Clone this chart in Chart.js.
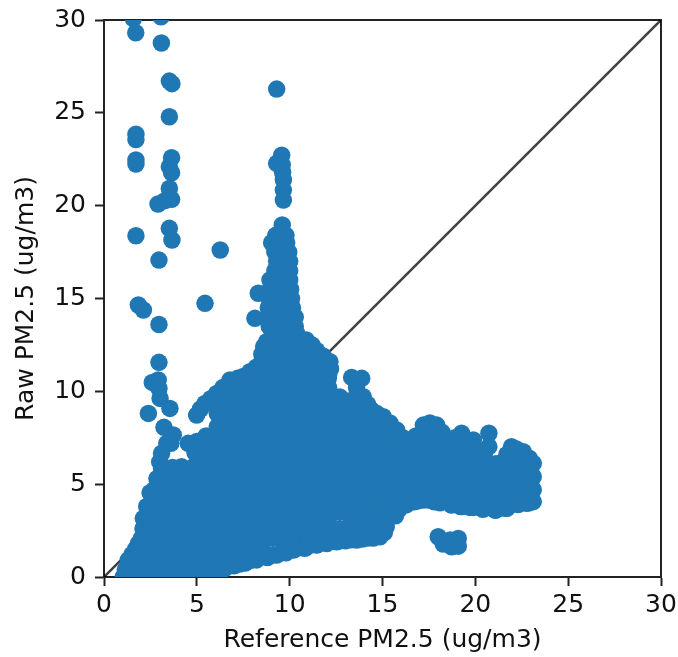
<!DOCTYPE html>
<html lang="en">
<head>
  <meta charset="UTF-8">
  <title>Raw vs Reference PM2.5</title>
  <script src="https://cdn.jsdelivr.net/npm/chart.js"></script>
  <style>
    body { margin: 0; background: #fff; }
    canvas { display: block; filter: blur(0.6px); }
  </style>
</head>
<body>
  <canvas id="grafico" width="678" height="657"></canvas>

  <script>
    const tickValues = [0, 5, 10, 15, 20, 25, 30];
    const refLine = [0, 30];

    // scattered points above the main cloud
    const outlierRef = [1.58, 1.71, 3.07, 3.09, 3.52, 3.66, 3.52, 1.72, 1.72, 1.72, 1.72, 3.64, 3.52, 3.64, 3.52, 3.64, 3.28, 2.91,
      3.52, 3.66, 1.72, 2.96, 6.26, 5.44, 1.85, 2.12, 2.96, 9.30, 2.96, 2.6, 2.92, 2.96, 3.02, 3.55, 2.39, 3.23, 3.73, 3.38, 3.6];
    const outlierRaw = [30.08, 29.31, 30.17, 28.76, 26.71, 26.57, 24.79, 23.85, 23.56, 22.46, 22.24, 22.58, 22.1, 21.77, 20.93, 20.34, 20.27, 20.09,
      18.78, 18.15, 18.38, 17.07, 17.61, 14.74, 14.65, 14.38, 13.6, 26.28, 11.56, 10.48, 10.61, 10.16, 9.62, 9.08, 8.81, 8.06, 7.65, 7.2, 7.2];

    // narrow column rising around 9-10 ug/m3
    const spikeRef = [9.57, 9.30, 9.60, 9.62, 9.66, 9.66, 9.66, 9.60,
      9.25, 9.6, 9.8, 9.03, 9.4, 9.84, 9.2, 9.6, 9.95, 9.3, 9.65, 10.0, 9.2, 9.6, 10.0,
      8.94, 9.3, 9.7, 10.0, 8.95, 9.3, 9.7, 10.05, 8.9, 9.3, 9.7, 10.1, 8.85, 9.3, 9.7, 10.15,
      8.8, 9.2, 9.6, 10.0, 10.3, 8.9, 9.3, 9.7, 10.1, 10.3, 8.31, 8.13, 8.76, 9.03, 10.38];
    const spikeRaw = [22.72, 22.28, 22.2, 21.8, 21.38, 20.84, 20.3, 18.96,
      18.4, 18.4, 18.4, 18.0, 18.0, 18.0, 17.5, 17.5, 17.5, 17.0, 17.0, 17.0, 16.5, 16.5, 16.5,
      16.0, 16.0, 16.0, 16.0, 15.5, 15.5, 15.5, 15.5, 15.0, 15.0, 15.0, 15.0, 14.5, 14.5, 14.5, 14.5,
      14.0, 14.0, 14.0, 14.0, 14.0, 13.5, 13.5, 13.5, 13.5, 13.5, 15.28, 13.93, 12.67, 13.3, 13.12];

    // outline of the main cloud
    const edgeRef = [1.04, 1.15, 1.31, 1.5, 1.7, 1.85, 2.03, 2.1, 2.12, 2.3, 2.48, 2.7, 2.85, 3.0, 3.1, 3.1, 4.18, 4.54, 5.0, 4.99, 5.2, 5.44, 5.75, 6.07, 6.4, 6.79, 7.2, 7.5, 7.86, 8.2, 8.5, 8.6,
      10.9, 11.2, 11.45, 11.8, 12.17, 12.2, 12.08, 13.34, 13.88, 13.6, 13.96, 14.2, 14.4, 14.7, 15.04, 15.4, 15.76, 16.1, 16.39, 16.8, 17.2, 17.55, 17.92, 18.2, 18.54, 18.9, 19.26, 19.89,
      20.73, 20.73, 21.36, 21.95, 22.2, 22.58, 22.9, 23.12, 23.12, 23.12, 23.12,
      22.76, 22.3, 21.6, 21.06, 20.4, 19.71, 19.2, 18.72, 17.8, 17.2, 16.7, 16.21, 15.85, 15.49, 15.2, 14.86, 14.2, 13.61, 13.0, 12.53, 12.0, 11.45, 10.8, 10.19, 9.8, 9.3, 8.8, 8.22, 7.6, 7.0, 6.5, 6.0, 5.5];
    const edgeRaw = [0, 0.4, 0.92, 1.2, 1.5, 1.8, 2.1, 2.6, 3.16, 3.8, 4.54, 4.7, 5.3, 6.2, 6.66, 5.9, 5.94, 7.2, 7.3, 8.72, 9.05, 9.35, 9.6, 9.89, 10.2, 10.61, 10.7, 10.8, 11.06, 11.3, 12.0, 12.4,
      12.76, 12.5, 12.2, 11.9, 11.6, 11.2, 10.7, 10.75, 10.7, 10.2, 9.71, 9.3, 9.0, 8.8, 8.63, 8.3, 7.92, 7.5, 7.2, 7.6, 8.18, 8.3, 8.18, 7.8, 7.2, 7.5, 7.74, 7.38,
      7.74, 7.02, 6.12, 7.02, 6.9, 6.75, 6.4, 6.12, 5.4, 4.7, 4.06,
      3.97, 3.95, 3.7, 3.61, 3.65, 3.75, 3.8, 3.88, 4.05, 4.15, 4.05, 3.88, 3.6, 3.34, 2.7, 2.17, 2.1, 1.99, 1.95, 1.9, 1.8, 1.72, 1.55, 1.45, 1.3, 1.18, 1.05, 0.92, 0.75, 0.6, 0.45, 0.3, 0];

    // filled interior of the cloud, one raw list per reference column
    const blobRef = [1.9, 2.5, 3.1, 3.7, 4.3, 4.9, 5.5, 6.1, 6.7, 7.3, 7.9, 8.5, 9.1, 9.7, 10.3, 10.9, 11.5, 12.1, 12.7, 13.3, 13.9, 14.5, 15.1, 15.7, 16.3, 16.9, 17.5, 18.1, 18.7, 19.3, 19.9, 20.5, 21.1, 21.7, 22.3, 22.9];
    const blobRaw = [
      [0, 0.7, 1.4],
      [0.4, 1.1, 1.8, 2.5, 3.2, 3.9],
      [0, 0.7, 1.4, 2.1, 2.8, 3.5, 4.2, 4.9, 5.6],
      [0.4, 1.1, 1.8, 2.5, 3.2, 3.9, 4.6, 5.3, 5.9],
      [0, 0.7, 1.4, 2.1, 2.8, 3.5, 4.2, 4.9, 5.6],
      [0.4, 1.1, 1.8, 2.5, 3.2, 3.9, 4.6, 5.3, 6, 6.7],
      [0.1, 0.7, 1.4, 2.1, 2.8, 3.5, 4.2, 4.9, 5.6, 6.3, 7, 7.6],
      [0.4, 1.1, 1.8, 2.5, 3.2, 3.9, 4.6, 5.3, 6, 6.7, 7.4, 8.1, 8.8, 9.5],
      [0.6, 1.4, 2.1, 2.8, 3.5, 4.2, 4.9, 5.6, 6.3, 7, 7.7, 8.4, 9.1, 9.8],
      [0.7, 1.1, 1.8, 2.5, 3.2, 3.9, 4.6, 5.3, 6, 6.7, 7.4, 8.1, 8.8, 9.5, 10.2],
      [0.9, 1.4, 2.1, 2.8, 3.5, 4.2, 4.9, 5.6, 6.3, 7, 7.7, 8.4, 9.1, 9.8, 10.5],
      [1.1, 1.8, 2.5, 3.2, 3.9, 4.6, 5.3, 6, 6.7, 7.4, 8.1, 8.8, 9.5, 10.2, 10.9, 11.6],
      [1.2, 2.1, 2.8, 3.5, 4.2, 4.9, 5.6, 6.3, 7, 7.7, 8.4, 9.1, 9.8, 10.5, 11.2, 11.9, 12.6],
      [1.4, 1.8, 2.5, 3.2, 3.9, 4.6, 5.3, 6, 6.7, 7.4, 8.1, 8.8, 9.5, 10.2, 10.9, 11.6, 12.3, 13],
      [1.5, 2.1, 2.8, 3.5, 4.2, 4.9, 5.6, 6.3, 7, 7.7, 8.4, 9.1, 9.8, 10.5, 11.2, 11.9, 12.6],
      [1.6, 2.5, 3.2, 3.9, 4.6, 5.3, 6, 6.7, 7.4, 8.1, 8.8, 9.5, 10.2, 10.9, 11.6, 12.3],
      [1.75, 2.1, 2.8, 3.5, 4.2, 4.9, 5.6, 6.3, 7, 7.7, 8.4, 9.1, 9.8, 10.5, 11.2, 11.9],
      [1.9, 2.5, 3.2, 3.9, 4.6, 5.3, 6, 6.7, 7.4, 8.1, 8.8, 9.5, 10.2, 10.9],
      [1.95, 2.6, 3.5, 4.2, 4.9, 5.6, 6.3, 7, 7.7, 8.4, 9.1, 9.7],
      [2, 2.5, 3.2, 3.9, 4.6, 5.3, 6, 6.7, 7.4, 8.1, 8.8, 9.5],
      [2.05, 2.8, 3.5, 4.2, 4.9, 5.6, 6.3, 7, 7.7, 8.4, 9.1],
      [2.1, 2.5, 3.2, 3.9, 4.6, 5.3, 6, 6.7, 7.4, 8.1, 8.7],
      [2.4, 2.8, 3.5, 4.2, 4.9, 5.6, 6.3, 7, 7.7, 8.3],
      [3.3, 3.9, 4.6, 5.3, 6, 6.7, 7.4],
      [3.9, 4.2, 4.9, 5.6, 6.3, 6.9],
      [4.1, 4.6, 5.3, 6, 6.7, 7.4],
      [4.15, 4.9, 5.6, 6.3, 7, 7.7],
      [4, 4.6, 5.3, 6, 6.7, 7.4],
      [3.9, 4.2, 4.9, 5.6, 6.3, 6.9],
      [3.8, 4.6, 5.3, 6, 6.7, 7.3],
      [3.75, 4.2, 4.9, 5.6, 6.3, 7],
      [3.7, 4.6, 5.3, 6, 6.7],
      [3.6, 4.2, 4.9, 5.6, 6.1],
      [3.7, 4.6, 5.3, 6, 6.6],
      [3.9, 4.2, 4.9, 5.6, 6.3],
      [4, 4.6, 5.3, 6]
    ];

    // small group under the tail
    const islandRef = [18.0, 18.27, 18.72, 19.08, 19.08, 18.65];
    const islandRaw = [2.17, 1.78, 1.63, 2.08, 1.66, 1.99];

    const toPoints = (refs, raws) => refs.map((r, i) => ({ x: r, y: raws[i] }));
    const blobPoints = blobRef.flatMap((r, i) => blobRaw[i].map(v => ({ x: r, y: v })));

    const pontos = [
      ...toPoints(outlierRef, outlierRaw),
      ...toPoints(spikeRef, spikeRaw),
      ...toPoints(edgeRef, edgeRaw),
      ...blobPoints,
      ...toPoints(islandRef, islandRaw)
    ];

    const corEixo = '#222222';
    const corTexto = '#111111';
    const fonteTexto = { family: 'DejaVu Sans', size: 25 };

    // tick labels must not push the plot area in from the canvas edges
    const semPadding = s => {
      s.paddingLeft = 0;
      s.paddingRight = 0;
      s.paddingTop = 0;
      s.paddingBottom = 0;
    };

    const ctx = document.getElementById('grafico').getContext('2d');
    new Chart(ctx, {
      type: 'scatter',
      data: {
        datasets: [
          {
            data: pontos,
            backgroundColor: '#1f77b4',
            borderWidth: 0,
            pointRadius: 8.75,
            clip: 0,
            order: 1
          },
          {
            data: refLine.map(v => ({ x: v, y: v })),
            showLine: true,
            borderColor: 'rgba(0, 0, 0, 0.75)',
            borderWidth: 2.5,
            pointRadius: 0,
            clip: 0,
            order: 2
          }
        ]
      },
      options: {
        responsive: false,
        animation: false,
        events: [],
        layout: { padding: { top: 20, right: 17, left: 0, bottom: 0 } },
        plugins: { legend: { display: false }, tooltip: { enabled: false } },
        scales: {
          x: {
            type: 'linear',
            min: 0,
            max: 30,
            afterBuildTicks: s => { s.ticks = tickValues.map(v => ({ value: v })); },
            afterFit: s => { s.height = 80; semPadding(s); },
            border: { color: corEixo, width: 2 },
            grid: { drawOnChartArea: false, tickLength: 9, tickColor: corEixo, tickWidth: 2 },
            ticks: { color: corTexto, font: fonteTexto, maxRotation: 0, padding: 4 },
            title: {
              display: true,
              text: 'Reference PM2.5 (ug/m3)',
              color: corTexto,
              font: fonteTexto,
              padding: { top: 0, bottom: 2 }
            }
          },
          y: {
            type: 'linear',
            min: 0,
            max: 30,
            afterBuildTicks: s => { s.ticks = tickValues.map(v => ({ value: v })); },
            afterFit: s => { s.width = 104; semPadding(s); },
            border: { color: corEixo, width: 2 },
            grid: { drawOnChartArea: false, tickLength: 9, tickColor: corEixo, tickWidth: 2 },
            ticks: { color: corTexto, font: fonteTexto, padding: 9 },
            title: {
              display: true,
              text: 'Raw PM2.5 (ug/m3)',
              color: corTexto,
              font: fonteTexto,
              padding: { top: 11, bottom: 0 }
            }
          },
          // top and right spines
          xTop: {
            axis: 'x',
            position: 'top',
            min: 0,
            max: 30,
            afterFit: s => { s.height = 0; semPadding(s); },
            border: { color: corEixo, width: 2 },
            grid: { display: false },
            ticks: { display: false }
          },
          yRight: {
            axis: 'y',
            position: 'right',
            min: 0,
            max: 30,
            afterFit: s => { s.width = 0; semPadding(s); },
            border: { color: corEixo, width: 2 },
            grid: { display: false },
            ticks: { display: false }
          }
        }
      }
    });
  </script>
</body>
</html>
